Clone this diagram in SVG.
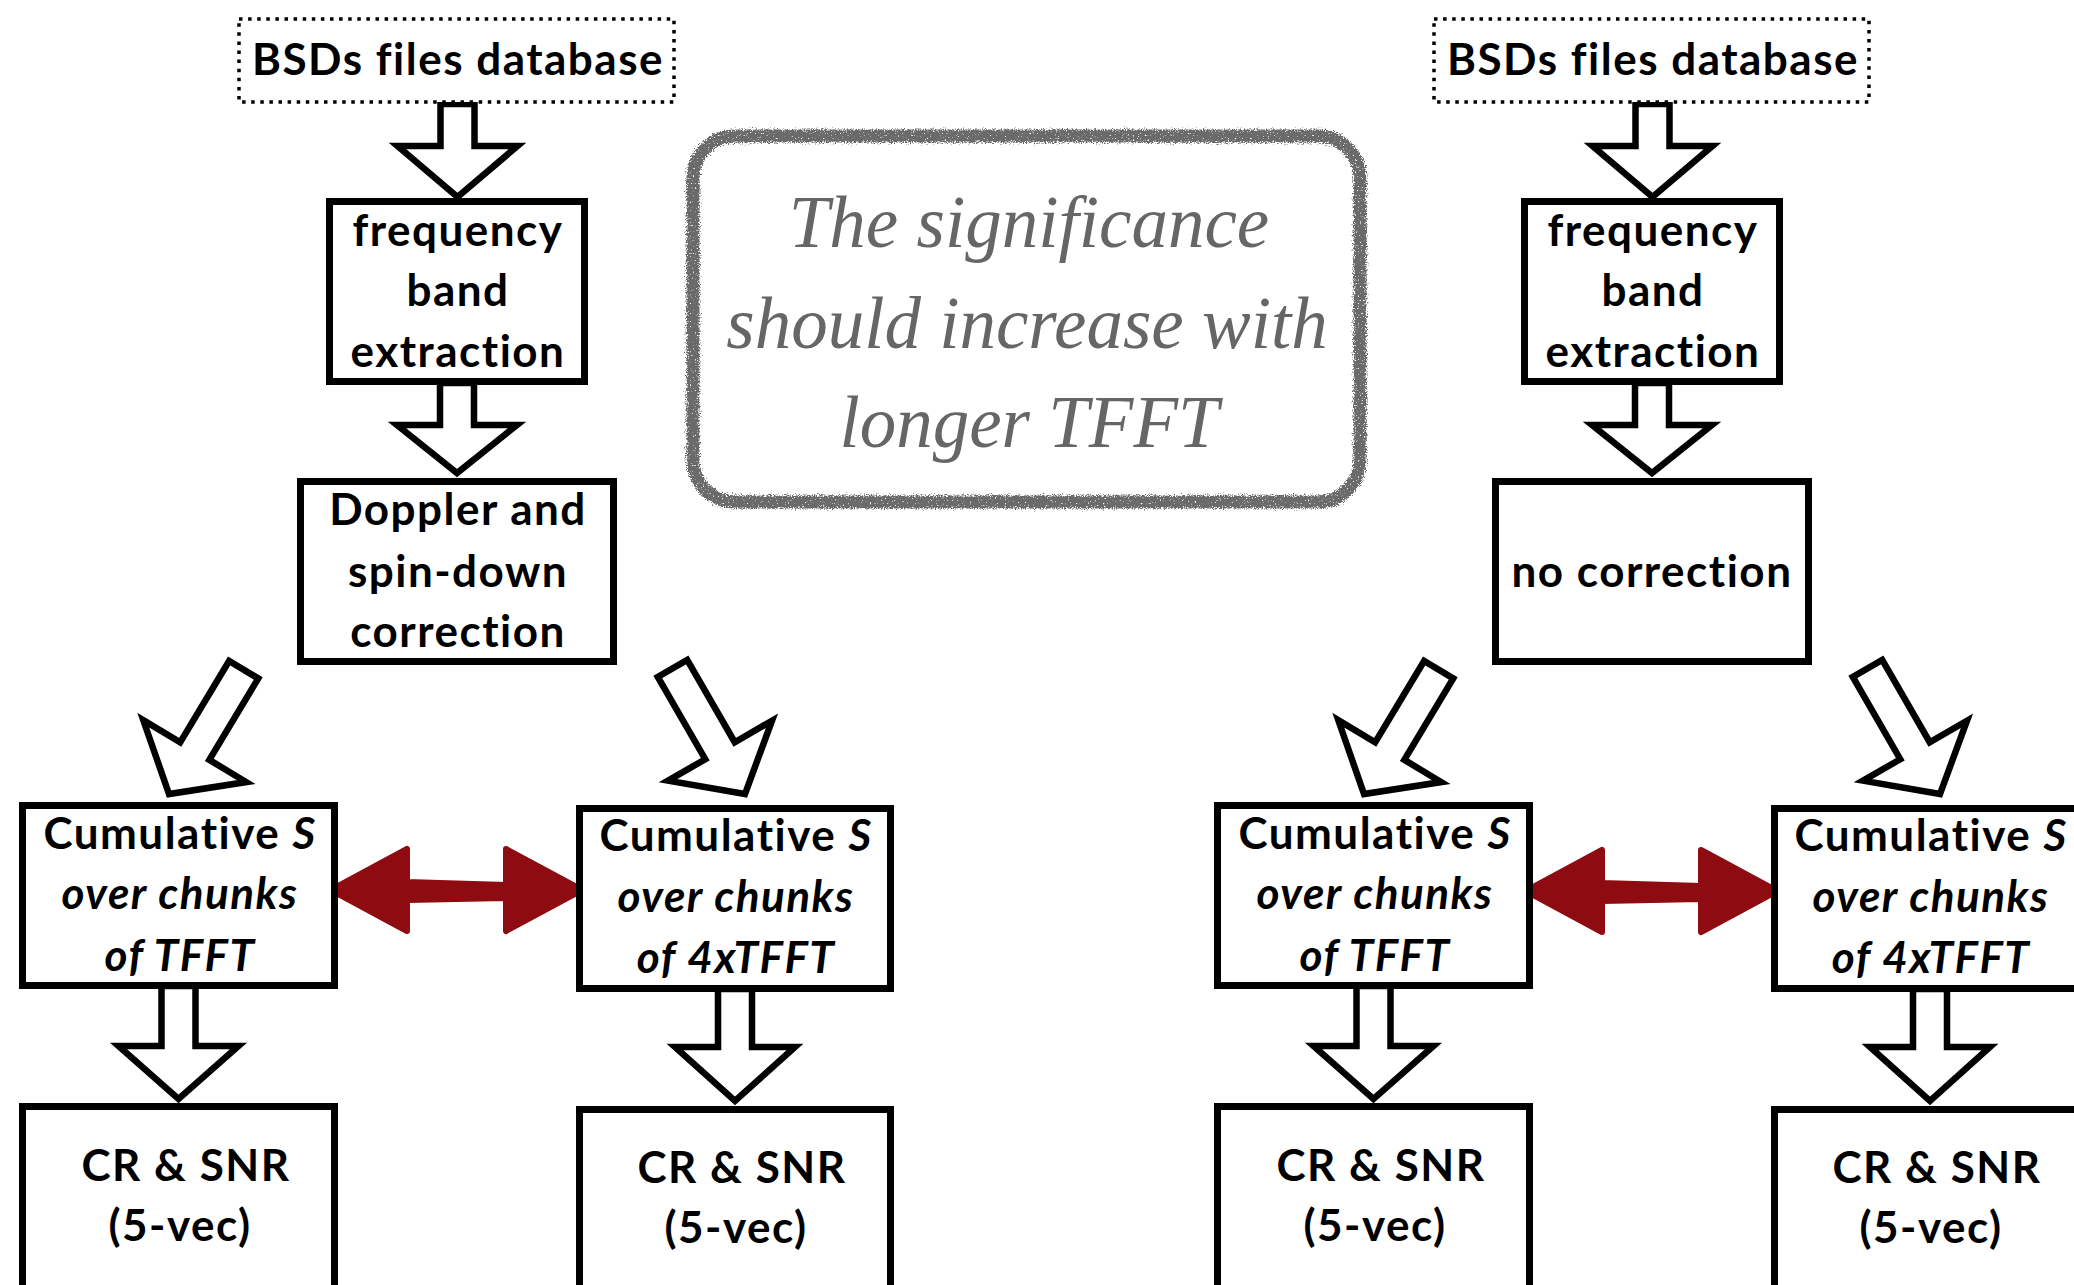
<svg xmlns="http://www.w3.org/2000/svg" width="2074" height="1285" viewBox="0 0 2074 1285">
  <style>
    .box { fill: #fff; stroke: #000; stroke-width: 7; }
    .dot { fill: #fff; stroke: #000; stroke-width: 3.5; stroke-dasharray: 3.5 5.6; }
    .blk { fill: #fff; stroke: #000; stroke-width: 6.5; stroke-linejoin: miter; stroke-miterlimit: 10; }
    .red { fill: #8e0c11; stroke: #8e0c11; stroke-width: 6; stroke-linejoin: round; }
    .lbl { font-family: Lato, "Liberation Sans", sans-serif; font-weight: 700; font-size: 44px; letter-spacing: 1.5px; text-anchor: middle; fill: #000; }
    .it { font-style: italic; }
    .note { font-family: "Liberation Serif", serif; font-style: italic; font-size: 73px; fill: #666; text-anchor: middle; }
    .frame { fill: none; stroke: #6a6a6a; stroke-width: 13; }
  </style>
  <defs>
    <!-- hollow block arrow pointing down, tip at the origin -->
    <path id="diag" d="M0,0 L-60,-50 L-17,-50 L-17,-145 L17,-145 L17,-50 L60,-50 Z"/>
    <!-- red double-headed arrow between the two cumulative boxes -->
    <path id="dbl" d="M331,890 L407,849 L407,882 L506,885 L506,849 L582,890 L506,931 L506,898 L407,900 L407,931 Z"/>
    <!-- worn brush look for the annotation frame -->
    <filter id="rough" x="-5%" y="-5%" width="110%" height="110%">
      <feTurbulence type="fractalNoise" baseFrequency="0.9" numOctaves="2" seed="3" result="n"/>
      <feDisplacementMap in="SourceGraphic" in2="n" scale="8" xChannelSelector="R" yChannelSelector="G" result="d"/>
      <feTurbulence type="fractalNoise" baseFrequency="0.6" numOctaves="2" seed="7" result="m"/>
      <feColorMatrix in="m" type="matrix" values="0 0 0 0 0  0 0 0 0 0  0 0 0 0 0  0 0 0 -6 4.9" result="mask"/>
      <feComposite in="d" in2="mask" operator="in"/>
    </filter>
  </defs>

  <rect width="2074" height="1285" fill="#fff"/>

  <g id="connectors">
    <!-- left pipeline -->
    <path class="blk" d="M440.5,104 L440.5,146 L397.5,146 L457.5,197 L517.5,146 L474.5,146 L474.5,104 Z"/>
    <path class="blk" d="M440,383 L440,425 L397,425 L457,473 L517,425 L474,425 L474,383 Z"/>
    <use class="blk" href="#diag" transform="translate(169,794) rotate(31)"/>
    <use class="blk" href="#diag" transform="translate(745,794) rotate(-30)"/>
    <path class="blk" d="M161.5,986 L161.5,1046 L118.5,1046 L178.5,1099 L238.5,1046 L195.5,1046 L195.5,986 Z"/>
    <path class="blk" d="M718,989 L718,1047 L675,1047 L735,1101 L795,1047 L752,1047 L752,989 Z"/>
    <use class="red" href="#dbl"/>
    <!-- right pipeline -->
    <g transform="translate(1195,0)">
      <path class="blk" d="M440.5,104 L440.5,146 L397.5,146 L457.5,197 L517.5,146 L474.5,146 L474.5,104 Z"/>
      <path class="blk" d="M440,383 L440,425 L397,425 L457,473 L517,425 L474,425 L474,383 Z"/>
      <use class="blk" href="#diag" transform="translate(169,794) rotate(31)"/>
      <use class="blk" href="#diag" transform="translate(745,794) rotate(-30)"/>
      <path class="blk" d="M161.5,986 L161.5,1046 L118.5,1046 L178.5,1099 L238.5,1046 L195.5,1046 L195.5,986 Z"/>
      <path class="blk" d="M718,989 L718,1047 L675,1047 L735,1101 L795,1047 L752,1047 L752,989 Z"/>
      <use class="red" href="#dbl" transform="translate(0,1)"/>
    </g>
  </g>

  <!-- left pipeline nodes -->
  <g id="db-left">
    <rect class="dot" x="239" y="19" width="435" height="83"/>
    <text class="lbl" x="458" y="75">BSDs files database</text>
  </g>
  <g id="band-left">
    <rect class="box" x="329.5" y="201.5" width="255" height="180"/>
    <text class="lbl" x="458" y="246">frequency</text>
    <text class="lbl" x="458" y="306">band</text>
    <text class="lbl" x="458" y="367">extraction</text>
  </g>
  <g id="doppler-left">
    <rect class="box" x="300.5" y="481.5" width="313" height="180"/>
    <text class="lbl" x="458" y="525">Doppler and</text>
    <text class="lbl" x="458" y="587">spin-down</text>
    <text class="lbl" x="458" y="647">correction</text>
  </g>
  <g id="cum1-left">
    <rect class="box" x="22.5" y="805.5" width="312" height="180"/>
    <text class="lbl" x="180" y="849">Cumulative <tspan class="it">S</tspan></text>
    <text class="lbl it" x="180" y="909">over chunks</text>
    <text class="lbl it" x="180" y="971">of TFFT</text>
  </g>
  <g id="cum4-left">
    <rect class="box" x="579.5" y="808.5" width="311" height="180"/>
    <text class="lbl" x="736" y="851">Cumulative <tspan class="it">S</tspan></text>
    <text class="lbl it" x="736" y="912">over chunks</text>
    <text class="lbl it" x="736" y="973">of 4xTFFT</text>
  </g>
  <g id="snr1-left">
    <rect class="box" x="22.5" y="1106.5" width="312" height="200"/>
    <text class="lbl" x="186" y="1181">CR &amp; SNR</text>
    <text class="lbl" x="180" y="1241">(5-vec)</text>
  </g>
  <g id="snr4-left">
    <rect class="box" x="579.5" y="1109.5" width="311" height="200"/>
    <text class="lbl" x="742" y="1183">CR &amp; SNR</text>
    <text class="lbl" x="736" y="1243">(5-vec)</text>
  </g>

  <!-- right pipeline nodes -->
  <g id="db-right" transform="translate(1195,0)">
    <rect class="dot" x="239" y="19" width="435" height="83"/>
    <text class="lbl" x="458" y="75">BSDs files database</text>
  </g>
  <g id="band-right" transform="translate(1195,0)">
    <rect class="box" x="329.5" y="201.5" width="255" height="180"/>
    <text class="lbl" x="458" y="246">frequency</text>
    <text class="lbl" x="458" y="306">band</text>
    <text class="lbl" x="458" y="367">extraction</text>
  </g>
  <g id="nocorr-right" transform="translate(1195,0)">
    <rect class="box" x="300.5" y="481.5" width="313" height="180"/>
    <text class="lbl" x="457" y="587">no correction</text>
  </g>
  <g id="cum1-right" transform="translate(1195,0)">
    <rect class="box" x="22.5" y="805.5" width="312" height="180"/>
    <text class="lbl" x="180" y="849">Cumulative <tspan class="it">S</tspan></text>
    <text class="lbl it" x="180" y="909">over chunks</text>
    <text class="lbl it" x="180" y="971">of TFFT</text>
  </g>
  <g id="cum4-right" transform="translate(1195,0)">
    <rect class="box" x="579.5" y="808.5" width="311" height="180"/>
    <text class="lbl" x="736" y="851">Cumulative <tspan class="it">S</tspan></text>
    <text class="lbl it" x="736" y="912">over chunks</text>
    <text class="lbl it" x="736" y="973">of 4xTFFT</text>
  </g>
  <g id="snr1-right" transform="translate(1195,0)">
    <rect class="box" x="22.5" y="1106.5" width="312" height="200"/>
    <text class="lbl" x="186" y="1181">CR &amp; SNR</text>
    <text class="lbl" x="180" y="1241">(5-vec)</text>
  </g>
  <g id="snr4-right" transform="translate(1195,0)">
    <rect class="box" x="579.5" y="1109.5" width="311" height="200"/>
    <text class="lbl" x="742" y="1183">CR &amp; SNR</text>
    <text class="lbl" x="736" y="1243">(5-vec)</text>
  </g>

  <!-- annotation -->
  <g id="note">
    <rect class="frame" x="693" y="136" width="667" height="366" rx="42" filter="url(#rough)"/>
    <text class="note" x="1029" y="247">The significance</text>
    <text class="note" x="1027" y="348">should increase with</text>
    <text class="note" x="1029" y="447">longer TFFT</text>
  </g>
</svg>
